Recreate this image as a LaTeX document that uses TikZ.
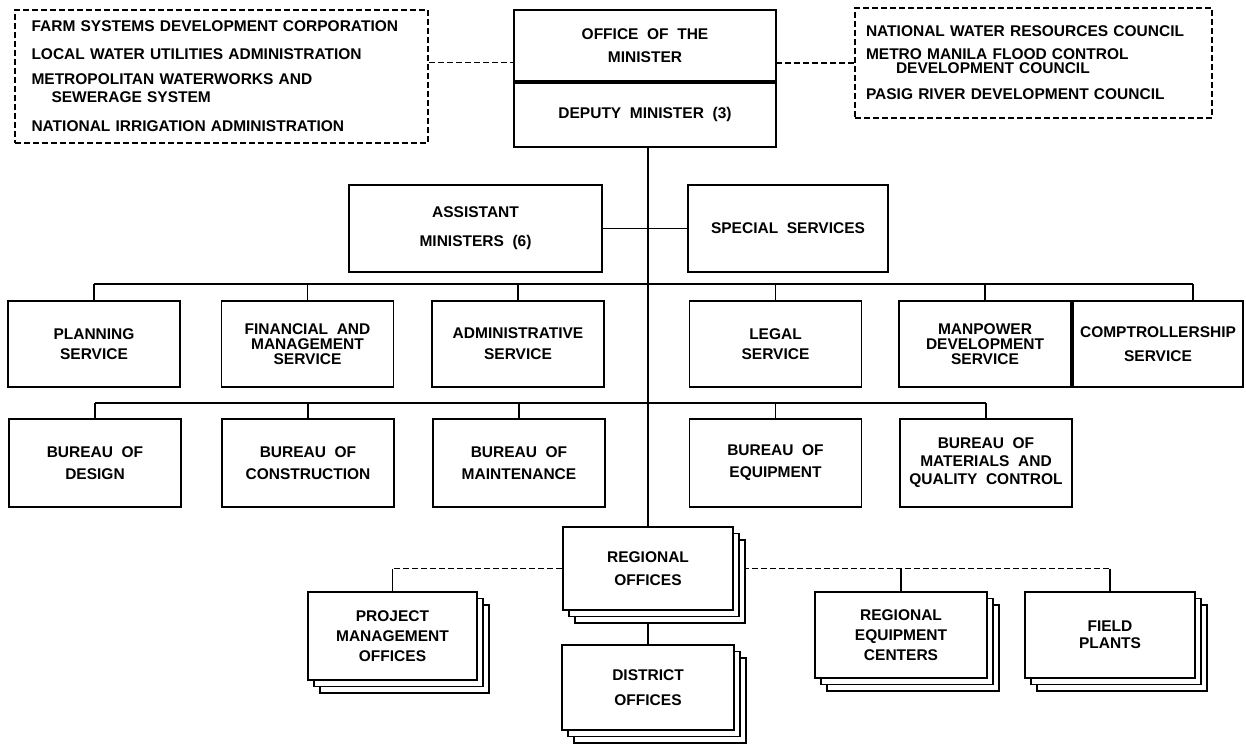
\documentclass[tikz,border=0pt]{standalone}
\usepackage{fontspec}
\setmainfont{Liberation Sans}[WordSpace=2]
\usetikzlibrary{shadows,backgrounds}
\tikzset{
  box/.style={draw,line width=1.8pt,fill=white,align=center,minimum width=172pt,minimum height=86pt,inner sep=2pt,font=\bfseries\fontsize{15.5}{18}\selectfont},
  dbox/.style={box,dash pattern=on 6pt off 3pt,line width=1.5pt,align=left},
  stack/.style={box,copy shadow={shadow xshift=12pt,shadow yshift=-13pt},copy shadow={shadow xshift=6pt,shadow yshift=-6.5pt}},
  link/.style={line width=1.8pt},
  dlink/.style={line width=1.5pt,dash pattern=on 6pt off 3pt}
}
\begin{document}
\begin{tikzpicture}[x=1pt,y=-1pt]
\useasboundingbox (0,0) rectangle (1246,746);
\node[dbox,text width=380pt,inner xsep=16.5pt,minimum height=133pt] (farm) at (221.5,76.5) {FARM SYSTEMS DEVELOPMENT CORPORATION\\[10pt]LOCAL WATER UTILITIES ADMINISTRATION\\[7pt]METROPOLITAN WATERWORKS AND\\\hspace*{20pt}SEWERAGE SYSTEM\\[11pt]NATIONAL IRRIGATION ADMINISTRATION};
\node[box,minimum width=262pt,minimum height=71pt] (office) at (645,45.5) {OFFICE OF THE\\[5pt]MINISTER};
\node[box,minimum width=262pt,minimum height=64pt,anchor=north] (deputy) at (office.south) {DEPUTY MINISTER (3)};
\node[dbox,text width=335pt,inner xsep=11pt,minimum height=110pt] (council) at (1033.5,63) {NATIONAL WATER RESOURCES COUNCIL\\[5pt]METRO MANILA FLOOD CONTROL\\[-4pt]\hspace*{30pt}DEVELOPMENT COUNCIL\\[8pt]PASIG RIVER DEVELOPMENT COUNCIL};
\node[box,minimum width=253pt,minimum height=87pt] (asst) at (475.5,228.5) {ASSISTANT\\[11pt]MINISTERS (6)};
\node[box,minimum width=200pt,minimum height=87pt] (special) at (788,228.5) {SPECIAL SERVICES};
\node[box] (planning) at (94,344) {PLANNING\\[2pt]SERVICE};
\node[box] (financial) at (307.5,344) {FINANCIAL AND\\[-3pt]MANAGEMENT\\[-3pt]SERVICE};
\node[box] (admin) at (518,344) {ADMINISTRATIVE\\[3pt]SERVICE};
\node[box] (legal) at (775.5,344) {LEGAL\\[2pt]SERVICE};
\node[box] (manpower) at (985,344) {MANPOWER\\[-3pt]DEVELOPMENT\\[-3pt]SERVICE};
\node[box,minimum width=170pt] (comptroller) at (1158,344) {COMPTROLLERSHIP\\[6pt]SERVICE};
\node[box,minimum height=88pt] (design) at (95,463) {BUREAU OF\\[4pt]DESIGN};
\node[box,minimum height=88pt] (construction) at (308,463) {BUREAU OF\\[4pt]CONSTRUCTION};
\node[box,minimum height=88pt] (maintenance) at (519,463) {BUREAU OF\\[4pt]MAINTENANCE};
\node[box,minimum height=88pt] (equipment) at (775.5,463) {BUREAU OF\\[4pt]EQUIPMENT};
\node[box,minimum height=88pt] (materials) at (986,463) {BUREAU OF\\MATERIALS AND\\QUALITY CONTROL};
\node[stack,minimum width=170pt,minimum height=83pt] (regional) at (648,568.5) {REGIONAL\\[5pt]OFFICES};
\node[stack,minimum height=85pt] (district) at (648,687.5) {DISTRICT\\[7pt]OFFICES};
\node[stack,minimum width=169pt,minimum height=88pt] (pmo) at (392.5,636) {PROJECT\\[2pt]MANAGEMENT\\[2pt]OFFICES};
\node[stack] (rec) at (901,635) {REGIONAL\\[2pt]EQUIPMENT\\[2pt]CENTERS};
\node[stack,minimum width=170pt] (field) at (1110,635) {FIELD\\[-1pt]PLANTS};
\coordinate (sbus) at (0,284);
\coordinate (bbus) at (0,403);
\coordinate (cdrop) at ([xshift=35pt]comptroller.north);
\begin{scope}[on background layer]
\draw[dlink] ([yshift=14pt]farm.east) -- ([yshift=14pt]farm.east -| office.west);
\draw[dlink] (council.west) -- (council.west -| deputy.east);
\draw[link] (deputy.south -| regional.north) -- (regional.north);
\draw[link] (asst.east) -- (special.west);
\draw[link] (planning.north |- sbus) -- (cdrop |- sbus);
\foreach \n in {planning,financial,admin,legal,manpower}
  \draw[link] (\n.north) -- (\n.north |- sbus);
\draw[link] (cdrop) -- (cdrop |- sbus);
\draw[link] (design.north |- bbus) -- (materials.north |- bbus);
\foreach \n in {design,construction,maintenance,equipment,materials}
  \draw[link] (\n.north) -- (\n.north |- bbus);
\draw[link] (regional.south) -- (district.north);
\draw[dlink] (regional.west) -- (regional.west -| pmo.north);
\draw[link] (regional.west -| pmo.north) -- (pmo.north);
\draw[dlink] (regional.east) -- (regional.east -| field.north);
\draw[link] (regional.east -| rec.north) -- (rec.north);
\draw[link] (regional.east -| field.north) -- (field.north);
\end{scope}
\end{tikzpicture}
\end{document}
